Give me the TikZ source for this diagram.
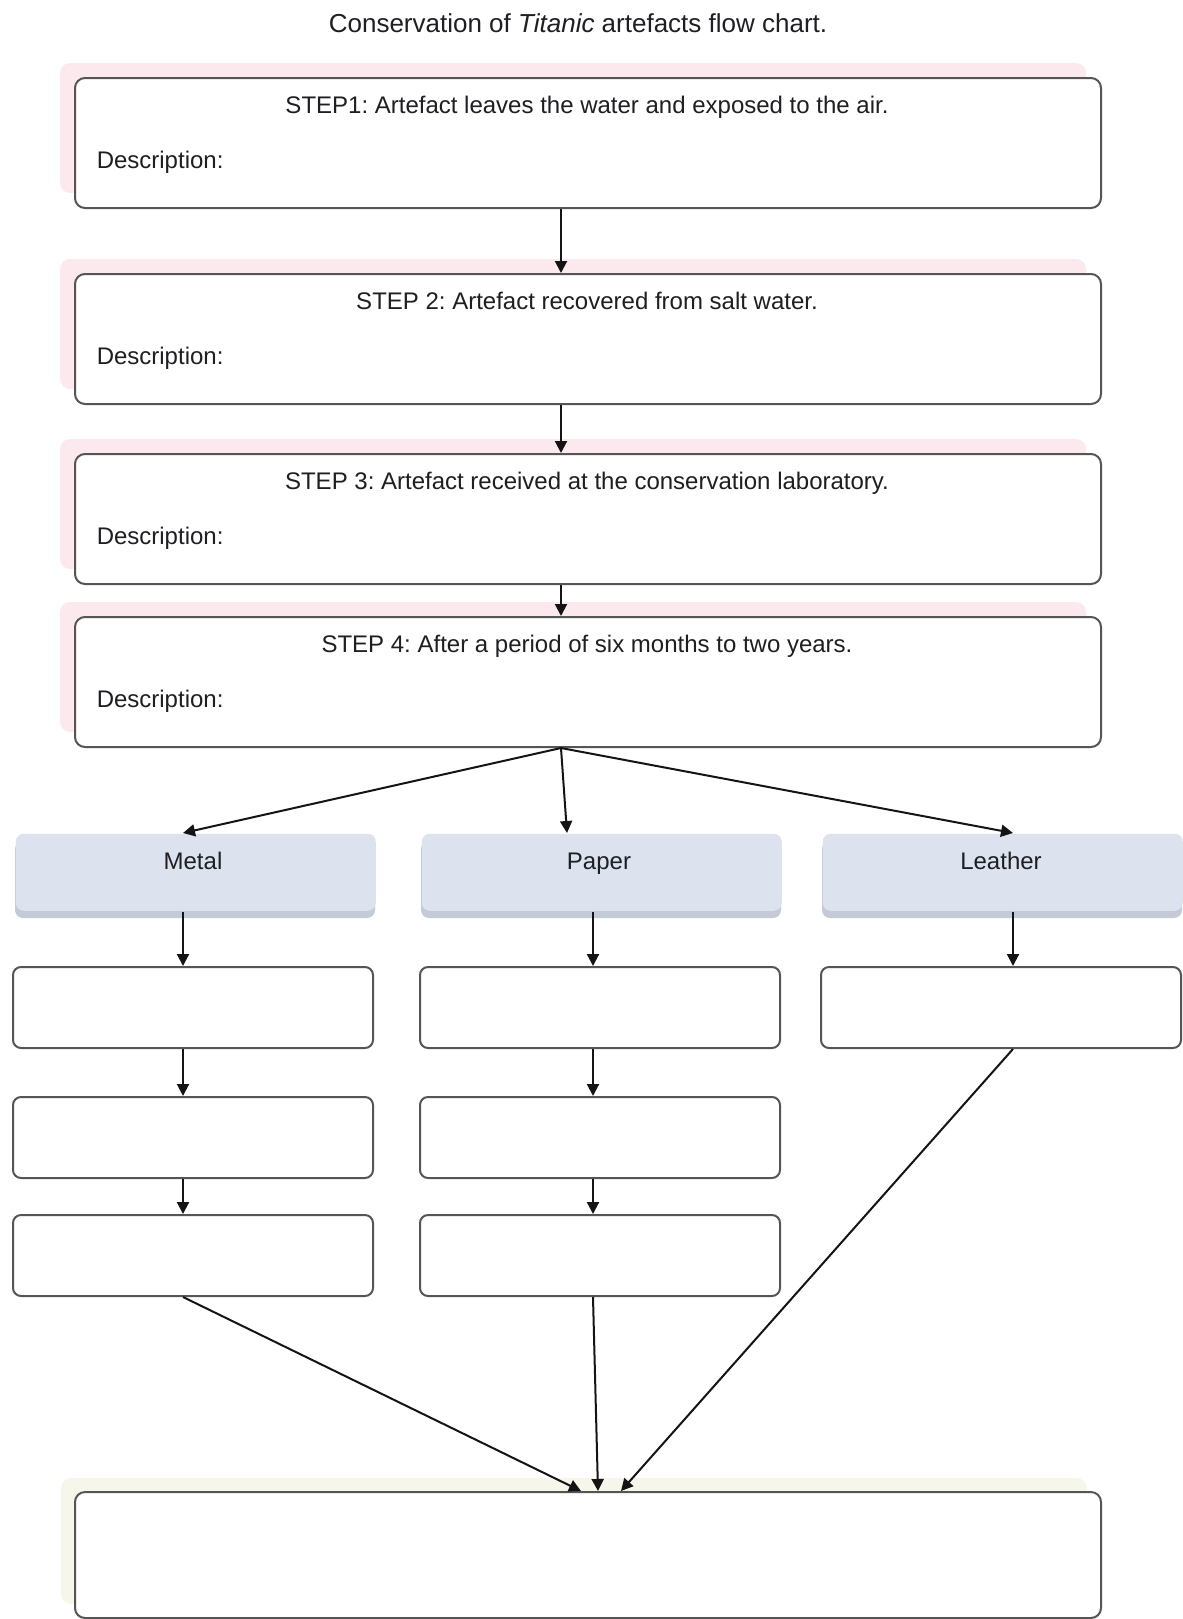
\documentclass[tikz,border=0pt]{standalone}
\usepackage{fontspec}
\setmainfont{Liberation Sans}
\usetikzlibrary{arrows.meta}
\frenchspacing

\tikzset{every picture/.style={line width=0.75pt}}
\tikzset{
  stepbox/.style={draw={rgb, 255:red, 85; green, 85; blue, 85}, line width=1pt, fill=white, rounded corners=5pt, minimum width=513pt, minimum height=65pt, inner sep=0pt, anchor=north west},
  catbox/.style={fill={rgb, 255:red, 220; green, 227; blue, 238}, rounded corners=4pt, minimum width=180pt, minimum height=38.5pt, inner sep=0pt, anchor=north west},
  catshade/.style={fill={rgb, 255:red, 196; green, 203; blue, 214}, rounded corners=4pt},
  rowbox/.style={draw={rgb, 255:red, 85; green, 85; blue, 85}, line width=1pt, fill=white, rounded corners=4pt, minimum width=180pt, minimum height=40.5pt, inner sep=0pt, anchor=north west},
  pinkglow/.style={fill={rgb, 255:red, 251; green, 233; blue, 237}, rounded corners=5pt},
  creamglow/.style={fill={rgb, 255:red, 246; green, 246; blue, 234}, rounded corners=5pt},
  txt/.style={text={rgb, 255:red, 30; green, 30; blue, 35}, font=\fontsize{12}{14}\selectfont, inner sep=0pt},
  arr/.style={draw={rgb, 255:red, 20; green, 20; blue, 20}, line width=1pt, -{Triangle[length=6pt,width=6pt]}}
}

\begin{document}
\begin{tikzpicture}[x=0.5pt,y=0.5pt,yscale=-1,xscale=1]
\useasboundingbox (0,0) rectangle (1183,1619);

% Text Node
\node[txt, font=\fontsize{13}{15}\selectfont, anchor=base] (title) at (578,32) {Conservation of \textit{Titanic} artefacts flow chart.};

%Shape: glow behind steps
\fill[pinkglow] (60,63) rectangle (1086,193);
\fill[pinkglow] (60,259) rectangle (1086,389);
\fill[pinkglow] (60,439) rectangle (1086,569);
\fill[pinkglow] (60,602) rectangle (1086,732);
\fill[creamglow] (61,1478) rectangle (1087,1604);

%Shape: Rounded Rect steps
\node[stepbox] (s1) at (74,77) {};
\node[stepbox] (s2) at (74,273) {};
\node[stepbox] (s3) at (74,453) {};
\node[stepbox] (s4) at (74,616) {};

% Text Node
\node[txt, anchor=base] (t1) at (587,113) {STEP1: Artefact leaves the water and exposed to the air.};
\node[txt, anchor=base west] (d1) at (96,168) {Description:};
\node[txt, anchor=base] (t2) at (587,309) {STEP 2: Artefact recovered from salt water.};
\node[txt, anchor=base west] (d2) at (96,364) {Description:};
\node[txt, anchor=base] (t3) at (587,489) {STEP 3: Artefact received at the conservation laboratory.};
\node[txt, anchor=base west] (d3) at (96,544) {Description:};
\node[txt, anchor=base] (t4) at (587,652) {STEP 4: After a period of six months to two years.};
\node[txt, anchor=base west] (d4) at (96,707) {Description:};

%Shape: material boxes
\fill[catshade] (15,841) rectangle (375,918);
\fill[catshade] (421,841) rectangle (781,918);
\fill[catshade] (822,841) rectangle (1182,918);
\node[catbox] (m0) at (15,833) {};
\node[catbox] (p0) at (421,833) {};
\node[catbox] (l0) at (822,833) {};

% Text Node
\node[txt, anchor=base] (metal) at (193,869) {Metal};
\node[txt, anchor=base] (paper) at (599,869) {Paper};
\node[txt, anchor=base] (leather) at (1001,869) {Leather};

%Shape: Rounded Rect rows
\node[rowbox] (m1) at (12,966) {};
\node[rowbox] (m2) at (12,1096) {};
\node[rowbox] (m3) at (12,1214) {};
\node[rowbox] (p1) at (419,966) {};
\node[rowbox] (p2) at (419,1096) {};
\node[rowbox] (p3) at (419,1214) {};
\node[rowbox] (l1) at (820,966) {};

%Shape: Rounded Rect last
\node[stepbox, minimum height=63pt] (fin) at (74,1491) {};

% columns
\coordinate (ax) at (561,0);
\coordinate (mx) at (183,0);
\coordinate (px) at (593,0);
\coordinate (lx) at (1013,0);

%Straight Lines
\draw[arr] (s1.south -| ax) -- (s2.north -| ax);
\draw[arr] (s2.south -| ax) -- (s3.north -| ax);
\draw[arr] (s3.south -| ax) -- (s4.north -| ax);

\draw[arr] (s4.south -| ax) -- (m0.north -| mx);
\draw[arr] (s4.south -| ax) -- ([xshift=3pt]p0.north -| ax);
\draw[arr] (s4.south -| ax) -- (l0.north -| lx);

\draw[arr] (m0.south -| mx) -- (m1.north -| mx);
\draw[arr] (m1.south -| mx) -- (m2.north -| mx);
\draw[arr] (m2.south -| mx) -- (m3.north -| mx);
\draw[arr] (p0.south -| px) -- (p1.north -| px);
\draw[arr] (p1.south -| px) -- (p2.north -| px);
\draw[arr] (p2.south -| px) -- (p3.north -| px);
\draw[arr] (l0.south -| lx) -- (l1.north -| lx);

\draw[arr] (m3.south -| mx) -- ([xshift=-3.5pt]fin.north);
\draw[arr] (p3.south -| px) -- ([xshift=5pt]fin.north);
\draw[arr] (l1.south -| lx) -- ([xshift=16.5pt]fin.north);

\end{tikzpicture}
\end{document}
